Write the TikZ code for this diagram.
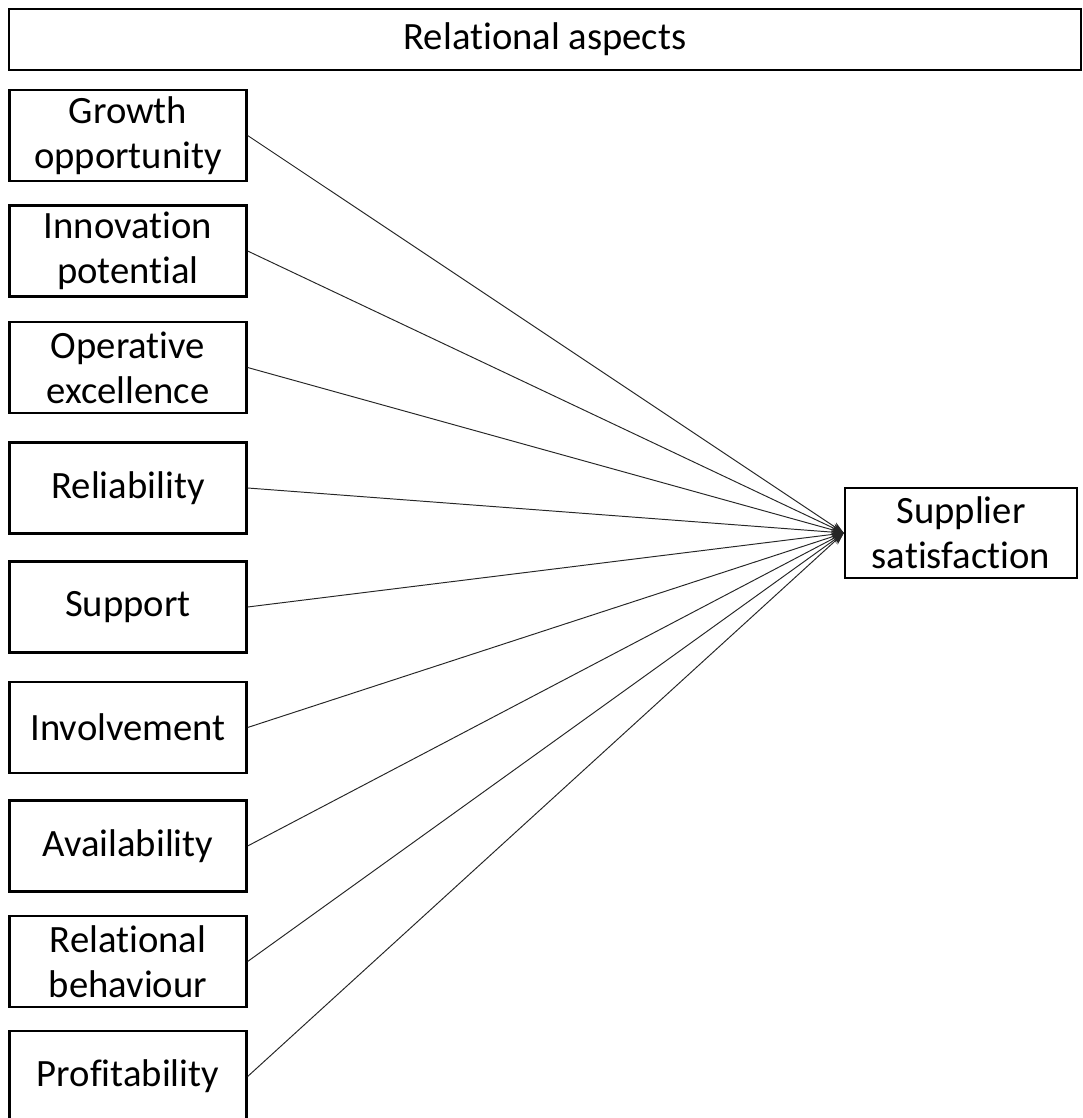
\documentclass[tikz,border=0pt]{standalone}
\usepackage{fontspec}
\setmainfont{Carlito}[Ligatures=NoCommon]
\usetikzlibrary{arrows.meta, positioning}

\begin{document}
\begin{tikzpicture}[
  x=0.02cm, y=-0.02cm,
  >={Stealth[length=7pt, width=5pt]},
  every node/.style={font=\fontsize{22}{25.6}\selectfont},
  headbox/.style={draw, rectangle, line width=1.3pt, minimum width=21.44cm, minimum height=1.22cm, inner sep=0pt, align=center},
  aspectbox/.style={draw, rectangle, line width=1.3pt, minimum width=4.74cm, minimum height=1.82cm, inner sep=0pt, align=center},
  outbox/.style={draw, rectangle, line width=1.3pt, minimum width=4.64cm, minimum height=1.8cm, inner sep=0pt, align=center},
  flow/.style={->, line width=0.55pt, black!85}
]
\useasboundingbox (0,0) rectangle (1082,1118);

\node[headbox] (Head) at (545, 39.5) {Relational aspects};

\node[aspectbox] (Growth) at (128, 135.5) {Growth\\opportunity};
\node[aspectbox] (Innov) at (128, 251) {Innovation\\potential};
\node[aspectbox] (Operative) at (128, 367.5) {Operative\\excellence};
\node[aspectbox] (Reliab) at (128, 488) {Reliability};
\node[aspectbox] (Support) at (128, 607) {Support};
\node[aspectbox] (Involve) at (128, 727.5) {Involvement};
\node[aspectbox] (Avail) at (128, 846) {Availability};
\node[aspectbox] (RelBeh) at (128, 961.5) {Relational\\behaviour};
\node[aspectbox] (Profit) at (128, 1076.5) {Profitability};

\node[outbox] (SupSat) at (961, 533) {Supplier\\satisfaction};

\draw[flow] (Growth.east) -- (SupSat.west);
\draw[flow] (Innov.east) -- (SupSat.west);
\draw[flow] (Operative.east) -- (SupSat.west);
\draw[flow] (Reliab.east) -- (SupSat.west);
\draw[flow] (Support.east) -- (SupSat.west);
\draw[flow] (Involve.east) -- (SupSat.west);
\draw[flow] (Avail.east) -- (SupSat.west);
\draw[flow] (RelBeh.east) -- (SupSat.west);
\draw[flow] (Profit.east) -- (SupSat.west);
\end{tikzpicture}
\end{document}
